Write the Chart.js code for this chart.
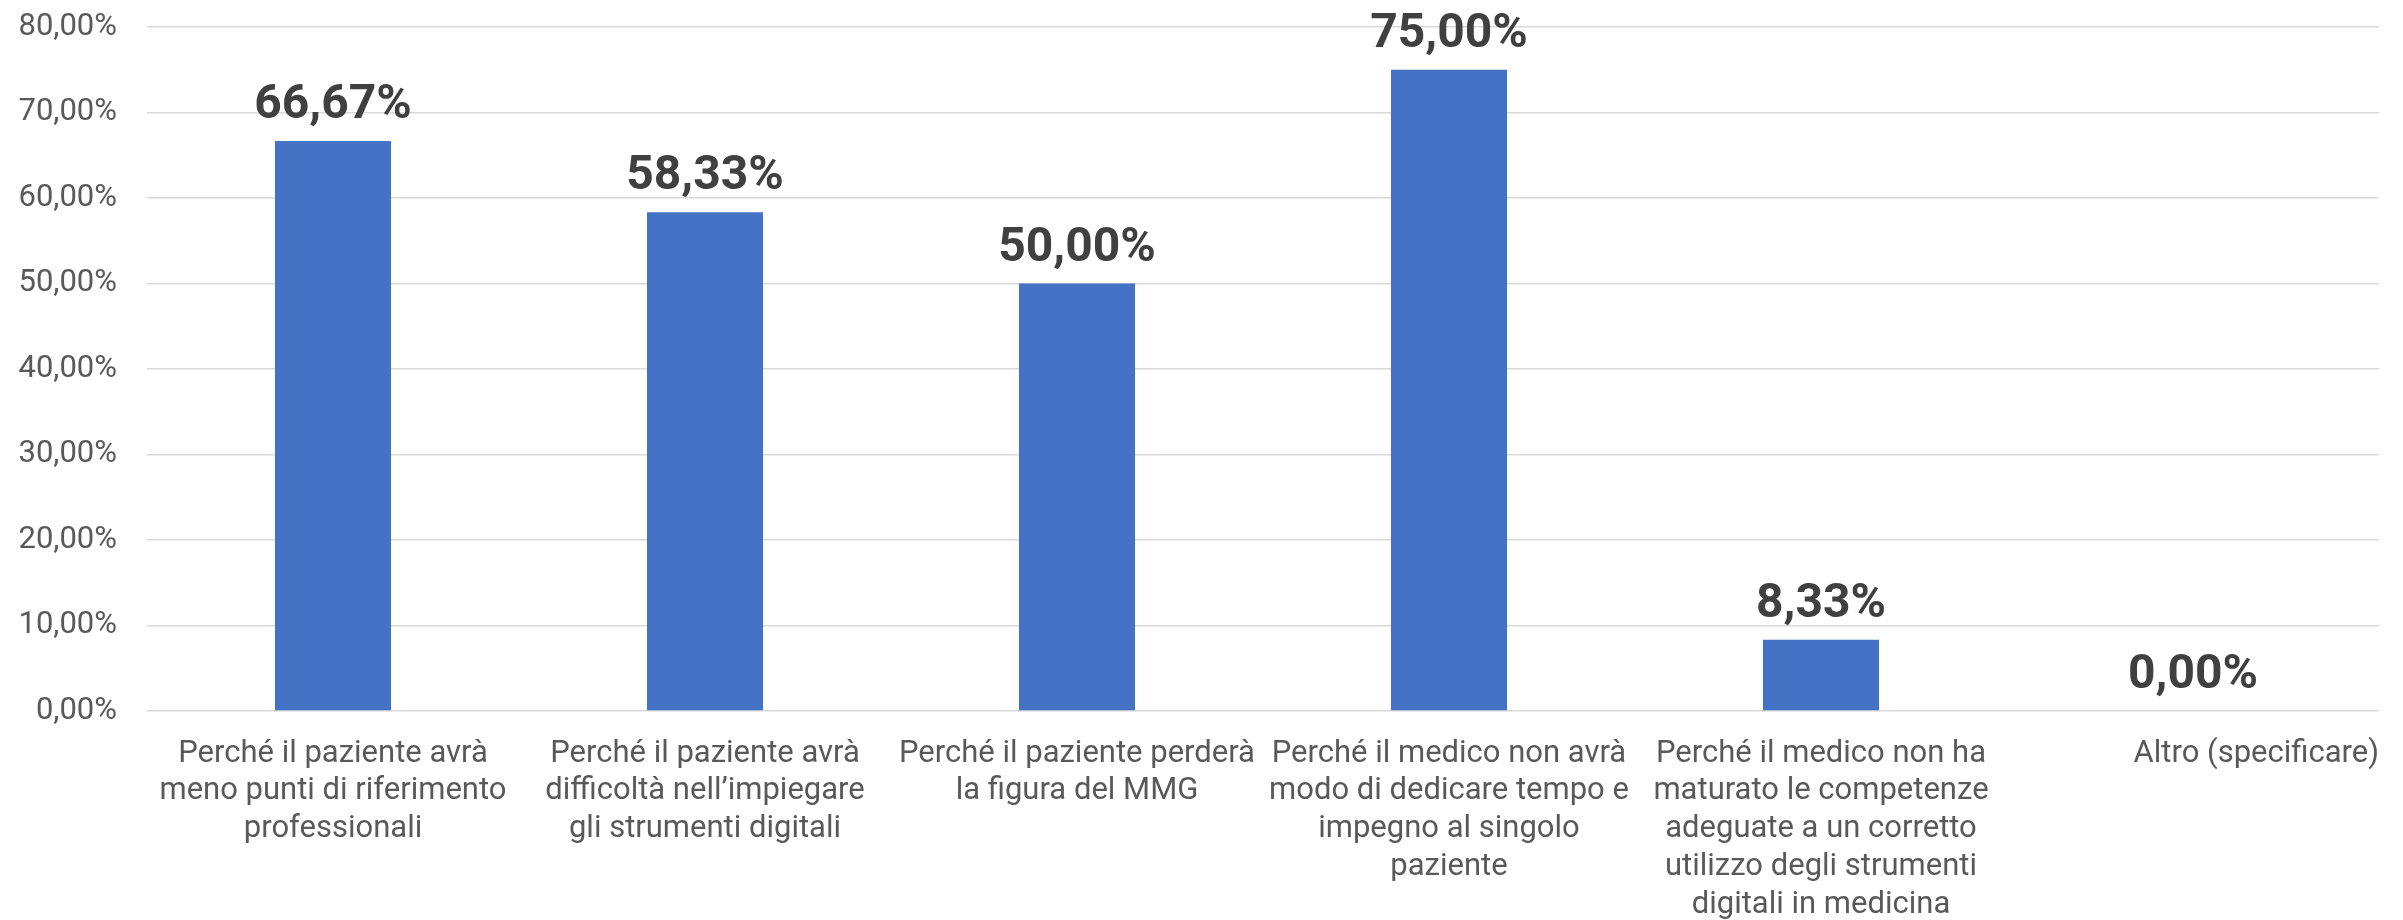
<!DOCTYPE html>
<html>
<head>
<meta charset="utf-8">
<script src="https://cdn.jsdelivr.net/npm/chart.js@4/dist/chart.umd.min.js"></script>
<style>
  html, body { margin: 0; padding: 0; background: #fff; }
  #wrap { width: 2403px; height: 920px; }
</style>
</head>
<body>
<div id="wrap"><canvas id="chart"></canvas></div>
<script>
// categories (already wrapped as in the picture)
const categories = [
  ['Perché il paziente avrà', 'meno punti di riferimento', 'professionali'],
  ['Perché il paziente avrà', 'difficoltà nell’impiegare', 'gli strumenti digitali'],
  ['Perché il paziente perderà', 'la figura del MMG'],
  ['Perché il medico non avrà', 'modo di dedicare tempo e', 'impegno al singolo', 'paziente'],
  ['Perché il medico non ha', 'maturato le competenze', 'adeguate a un corretto', 'utilizzo degli strumenti', 'digitali in medicina'],
  ['Altro (specificare)']
];
const percentages = [66.67, 58.33, 50.00, 75.00, 8.33, 0.00];
const yMin = 0;
const yMax = 80;
const yStep = 10;

function formatPct(v) {
  return v.toFixed(2).replace('.', ',') + '%';
}

// value labels above the bars
const barLabels = {
  id: 'barLabels',
  afterDatasetsDraw(chart) {
    const ctx = chart.ctx;
    const meta = chart.getDatasetMeta(0);
    ctx.save();
    ctx.font = 'bold 48px Roboto';
    ctx.fillStyle = '#404040';
    ctx.textAlign = 'center';
    ctx.textBaseline = 'alphabetic';
    meta.data.forEach(function (bar, i) {
      ctx.fillText(formatPct(percentages[i]), bar.x, bar.y - 23);
    });
    ctx.restore();
  }
};

// the last category label sits flush with the right end of the plot
const lastLabelRight = {
  id: 'lastLabelRight',
  beforeDraw(chart) {
    const xs = chart.scales.x;
    const items = xs.getLabelItems(chart.chartArea);
    const last = items[items.length - 1];
    if (!last) return;
    last.options.textAlign = 'right';
    last.options.translation[0] = xs.right;
  }
};

const ctx = document.getElementById('chart').getContext('2d');
new Chart(ctx, {
  type: 'bar',
  data: {
    labels: categories,
    datasets: [{
      data: percentages,
      backgroundColor: '#4472C4',
      borderWidth: 0,
      barPercentage: 0.312,
      categoryPercentage: 1
    }]
  },
  options: {
    responsive: true,
    maintainAspectRatio: false,
    animation: false,
    layout: { padding: { left: 17, right: 24, top: 27, bottom: 0 } },
    plugins: {
      legend: { display: false },
      tooltip: { enabled: false }
    },
    scales: {
      x: {
        grid: { display: false, drawTicks: false },
        border: { display: false },
        ticks: {
          color: '#595959',
          font: { family: 'Roboto', size: 31, lineHeight: 1.218 },
          padding: 24,
          maxRotation: 0,
          minRotation: 0,
          autoSkip: false
        },
        afterFit: function (scale) {
          // keep the axis to the space the reference uses
          scale.height = 209;
          scale.paddingLeft = 0;
          scale.paddingRight = 0;
        }
      },
      y: {
        min: yMin,
        max: yMax,
        grid: { color: '#d9d9d9', lineWidth: 1.5, drawTicks: false },
        border: { display: false },
        ticks: {
          stepSize: yStep,
          color: '#595959',
          font: { family: 'Roboto', size: 31 },
          padding: 30,
          callback: function (v) { return formatPct(v); }
        },
        afterFit: function (scale) {
          scale.width = 130;
          scale.paddingTop = 0;
          scale.paddingBottom = 0;
        }
      }
    }
  },
  plugins: [barLabels, lastLabelRight]
});
</script>
</body>
</html>
